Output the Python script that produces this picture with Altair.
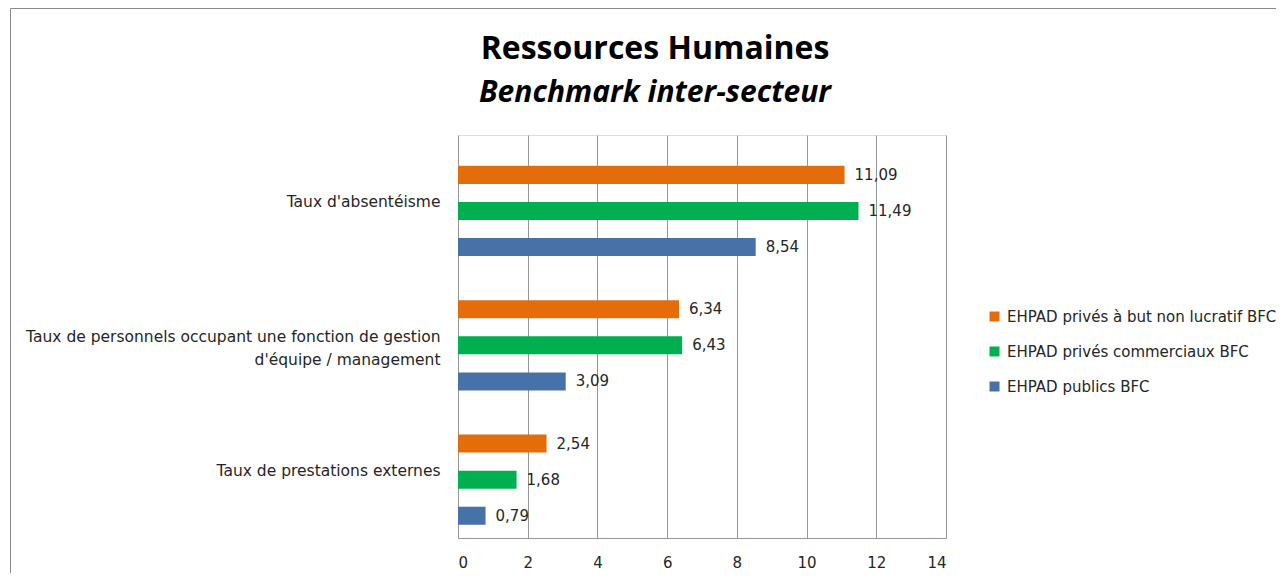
import altair as alt
import pandas as pd

categories = [
    "Taux d'absentéisme",
    "Taux de personnels occupant une fonction de gestion d'équipe / management",
    "Taux de prestations externes",
]
series = [
    "EHPAD privés à but non lucratif BFC",
    "EHPAD privés commerciaux BFC",
    "EHPAD publics BFC",
]
colors = ["#E46C0A", "#00B050", "#4672A8"]
values_nonlucratif = [11.09, 6.34, 2.54]
values_commerciaux = [11.49, 6.43, 1.68]
values_publics = [8.54, 3.09, 0.79]
x_ticks = [0, 2, 4, 6, 8, 10, 12, 14]
title_text = "Ressources Humaines"
subtitle_text = "Benchmark inter-secteur"

rows = []
for s, vals in zip(series, [values_nonlucratif, values_commerciaux, values_publics]):
    for c, v in zip(categories, vals):
        rows.append({"cat": c, "series": s, "value": v,
                     "label": f"{v:.2f}".replace(".", ",")})
df = pd.DataFrame(rows)

FONT = "DejaVu Sans"
TXT = "#262626"
GRID = "#969696"

y_enc = alt.Y("cat:N", sort=categories, title=None,
              scale=alt.Scale(paddingInner=0, paddingOuter=0),
              axis=alt.Axis(domain=False, ticks=False, grid=False, labelPadding=18,
                            labelFontSize=15.5, labelFont=FONT, labelColor=TXT,
                            labelLimit=0, labelLineHeight=23,
                            labelExpr="split(replace(datum.label, 'gestion d', 'gestion|d'), '|')"))
yoff_enc = alt.YOffset("series:N", sort=series,
                       scale=alt.Scale(paddingInner=0.5, paddingOuter=0.611, align=0.7))
x_enc = alt.X("value:Q", title=None,
              scale=alt.Scale(domain=[0, 14], nice=False),
              axis=alt.Axis(values=x_ticks, ticks=False, domainColor=GRID,
                            gridColor=GRID, gridWidth=1, labelPadding=17,
                            labelFontSize=15, labelFont=FONT, labelColor=TXT,
                            format="d"))

base = alt.Chart(df)

bars = base.mark_bar(cornerRadius=0).encode(
    y=y_enc, yOffset=yoff_enc, x=x_enc,
    color=alt.Color("series:N", sort=series,
                    scale=alt.Scale(domain=series, range=colors),
                    legend=alt.Legend(title=None, orient="none",
                                      legendX=529, legendY=174,
                                      symbolType="square", symbolSize=100,
                                      symbolStrokeWidth=0,
                                      labelFontSize=15, labelFont=FONT,
                                      labelColor=TXT, rowPadding=19,
                                      labelLimit=0, labelOffset=5)),
)

texts = base.mark_text(align="left", baseline="middle", dx=10,
                       fontSize=15, font=FONT, color=TXT).encode(
    y=alt.Y("cat:N", sort=categories), yOffset=alt.YOffset("series:N", sort=series),
    x=alt.X("value:Q"), text="label:N",
)

one = alt.Chart(pd.DataFrame({"a": [0]}))

frame = one.mark_rect(
    fillOpacity=0, stroke="#8a8a8a", strokeWidth=1, clip=False
).encode(x=alt.value(-447.5), x2=alt.value(1200),
         y=alt.value(-126.5), y2=alt.value(900))

title = one.mark_text(
    font="Open Sans", fontSize=32, fontWeight="bold", color="#000000",
    align="center", baseline="alphabetic"
).encode(x=alt.value(197), y=alt.value(-76), text=alt.value(title_text))

subtitle = one.mark_text(
    font="Open Sans", fontSize=30, fontWeight="bold", fontStyle="italic",
    color="#000000", align="center", baseline="alphabetic"
).encode(x=alt.value(197), y=alt.value(-33), text=alt.value(subtitle_text))

chart = alt.layer(frame, title, subtitle, bars, texts).properties(
    width=488, height=403,
    autosize=alt.AutoSizeParams(type="none"),
    padding={"left": 450, "top": 127, "right": 330, "bottom": 35},
).configure_view(stroke=None, strokeWidth=0, strokeOpacity=0).configure(background="white")

chart.save("out.html", embed_options={"renderer": "svg", "actions": False})
